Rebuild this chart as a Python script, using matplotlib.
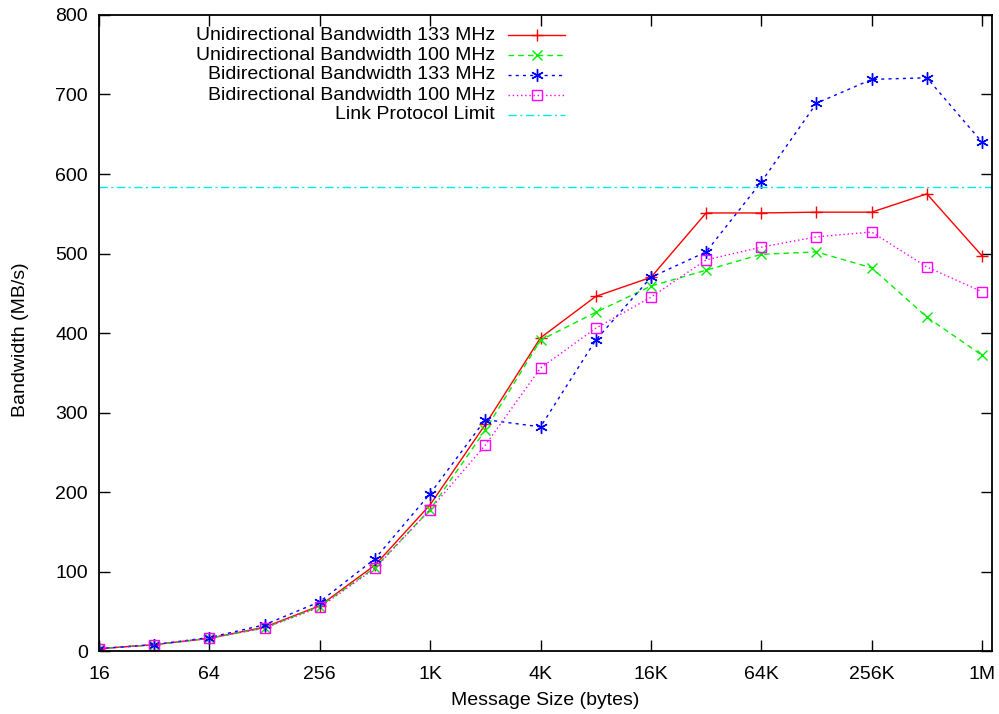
import matplotlib
matplotlib.use("Agg")
import matplotlib.pyplot as plt

plt.rcParams['font.family'] = ['Liberation Sans', 'DejaVu Sans']

# message sizes in bytes
sizes = [16, 32, 64, 128, 256, 512, 1024, 2048, 4096, 8192, 16384, 32768,
         65536, 131072, 262144, 524288, 1048576]

# bandwidth in MB/s
uni_133 = [3, 8, 16, 30, 57, 108, 184, 285, 394, 446, 470, 551, 551, 552, 552, 575, 497]
uni_100 = [3, 8, 16, 29, 56, 105, 178, 278, 391, 426, 459, 479, 499, 502, 482, 420, 372]
bi_133 = [3, 8, 17, 33, 62, 116, 198, 291, 282, 391, 470, 502, 590, 689, 719, 721, 640]
bi_100 = [3, 8, 16, 29, 55, 104, 178, 259, 356, 406, 445, 492, 508, 521, 527, 483, 452]
link_limit = 584

tick_vals = [16, 64, 256, 1024, 4096, 16384, 65536, 262144, 1048576]
tick_labels = ['16', '64', '256', '1K', '4K', '16K', '64K', '256K', '1M']

series = [
    ("Unidirectional Bandwidth 133 MHz", uni_133,
     dict(color='#ff0000', marker='+', markersize=9, linestyle='-')),
    ("Unidirectional Bandwidth 100 MHz", uni_100,
     dict(color='#00ee00', marker='x', markersize=7, dashes=(4, 3))),
    ("Bidirectional Bandwidth 133 MHz", bi_133,
     dict(color='#0000ff', marker=(6, 2, 0), markersize=9, dashes=(2.2, 3))),
    ("Bidirectional Bandwidth 100 MHz", bi_100,
     dict(color='#ff00ff', marker='s', markersize=7, fillstyle='none', dashes=(1, 2))),
]

FS = 14

fig = plt.figure(figsize=(9.99, 7.14), dpi=100)
ax = fig.add_axes([0.0991, 0.0882, 0.8939, 0.8908])

for label, vals, style in series:
    ax.plot(sizes, vals, linewidth=1.0, markeredgewidth=1.0, **style)

limit_style = dict(color='#00eaea', linewidth=1.0, dashes=(6, 2.5, 1.5, 2.5))
ax.axhline(link_limit, **limit_style)

ax.set_xscale('log', base=2)
ax.set_xlim(16, 2 ** 20.18)
ax.set_ylim(0, 800)
ax.set_xticks(tick_vals)
ax.set_xticklabels(tick_labels)
ax.minorticks_off()
ax.set_yticks(range(0, 801, 100))

ax.tick_params(direction='in', length=8, width=1.0, top=True, right=True,
               labelsize=FS)
ax.tick_params(axis='x', pad=11)
ax.tick_params(axis='y', pad=8)
for sp in ax.spines.values():
    sp.set_linewidth(1.3)

ax.set_xlabel('Message Size (bytes)', fontsize=FS)
ax.set_ylabel('Bandwidth (MB/s)', fontsize=FS)
ax.xaxis.set_label_coords(0.5, -0.065)
ax.yaxis.set_label_coords(-0.078, 0.49)

# gnuplot-style key: right-aligned text, sample line to the right
rows = [0.9685, 0.937, 0.906, 0.874, 0.843]
entries = [(lbl, st) for lbl, _, st in series] + [("Link Protocol Limit", None)]
for (lbl, st), yy in zip(entries, rows):
    ax.text(0.4435, yy, lbl, ha='right', va='center', fontsize=FS,
            transform=ax.transAxes)
    if st is None:
        ax.plot([0.458, 0.522], [yy, yy], transform=ax.transAxes, clip_on=False,
                **limit_style)
    else:
        line_st = {k: v for k, v in st.items() if k not in ('marker', 'markersize', 'fillstyle')}
        ax.plot([0.458, 0.522], [yy, yy], transform=ax.transAxes, linewidth=1.0,
                clip_on=False, **line_st)
        ax.plot([0.490], [yy], transform=ax.transAxes, linestyle='none',
                color=st['color'], marker=st['marker'], markersize=st['markersize'],
                fillstyle=st.get('fillstyle', 'full'), markeredgewidth=1.0, clip_on=False)

fig.savefig('out.png', dpi=100)
